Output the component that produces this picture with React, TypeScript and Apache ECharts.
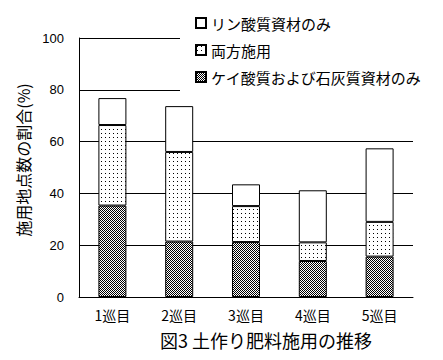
import React, { useEffect, useRef } from "react";
import * as echarts from "echarts";

const categories = ["1巡目", "2巡目", "3巡目", "4巡目", "5巡目"];
const silicaLime = [35.3, 21.4, 21.2, 13.9, 15.6];
const both = [31.1, 34.6, 13.9, 7.2, 13.4];
const phosphate = [10.4, 17.7, 8.4, 20.1, 28.4];
const seriesNames = ["リン酸質資材のみ", "両方施用", "ケイ酸質および石灰質資材のみ"];
const titleText = "図3 土作り肥料施用の推移";
const yAxisName = "施用地点数の割合(%)";

function makeDots(): HTMLCanvasElement {
  const c = document.createElement("canvas");
  c.width = 4;
  c.height = 4;
  const ctx = c.getContext("2d")!;
  ctx.fillStyle = "#fff";
  ctx.fillRect(0, 0, 4, 4);
  ctx.fillStyle = "#000";
  ctx.fillRect(1, 1, 1, 1);
  return c;
}

function makeChecker(): HTMLCanvasElement {
  const c = document.createElement("canvas");
  c.width = 2;
  c.height = 2;
  const ctx = c.getContext("2d")!;
  ctx.fillStyle = "#fff";
  ctx.fillRect(0, 0, 2, 2);
  ctx.fillStyle = "#000";
  ctx.fillRect(0, 0, 1, 1);
  ctx.fillRect(1, 1, 1, 1);
  return c;
}

export default function App() {
  const ref = useRef<HTMLDivElement>(null);
  useEffect(() => {
    if (!ref.current) return;
    const chart = echarts.init(ref.current, undefined, { renderer: "svg" });
    const font = "'Noto Sans CJK JP', 'Noto Sans', sans-serif";
    const dots = { image: makeDots(), repeat: "repeat" };
    const checker = { image: makeChecker(), repeat: "repeat" };
    const border = { borderColor: "#000", borderWidth: 1 };
    chart.setOption({
      animation: false,
      backgroundColor: "#fff",
      textStyle: { fontFamily: font, color: "#000" },
      title: {
        text: titleText,
        left: 160,
        top: 331,
        padding: 0,
        textStyle: { fontSize: 18, fontWeight: "normal", color: "#000", fontFamily: font },
      },
      legend: {
        orient: "vertical",
        left: 180,
        top: 0,
        padding: [15, 30, 8, 15],
        backgroundColor: "#fff",
        itemWidth: 10,
        itemHeight: 10,
        itemGap: 11,
        icon: "rect",
        data: seriesNames,
        textStyle: { fontSize: 15, lineHeight: 16, color: "#000", fontFamily: font },
      },
      graphic: [
        {
          type: "text",
          x: 23,
          y: 160,
          rotation: Math.PI / 2,
          style: {
            text: yAxisName,
            fontSize: 16,
            fontFamily: font,
            fill: "#000",
            align: "center",
            verticalAlign: "middle",
          },
        },
      ],
      grid: { left: 79, right: 30, top: 38, bottom: 63 },
      xAxis: {
        type: "category",
        data: categories,
        axisLine: { lineStyle: { color: "#000", width: 1 } },
        axisTick: { show: false },
        axisLabel: { fontSize: 14, margin: 11, color: "#000", fontFamily: font },
      },
      yAxis: {
        type: "value",
        min: 0,
        max: 100,
        interval: 20,
        axisLine: { show: true, lineStyle: { color: "#000", width: 1 } },
        axisTick: { show: false },
        splitLine: { lineStyle: { color: "#000", width: 1 } },
        axisLabel: { fontSize: 13, margin: 15, color: "#000", fontFamily: "'Liberation Sans', sans-serif" },
      },
      series: [
        {
          name: seriesNames[2],
          type: "bar",
          stack: "t",
          barWidth: 28,
          data: silicaLime,
          itemStyle: { color: checker, ...border },
        },
        {
          name: seriesNames[1],
          type: "bar",
          stack: "t",
          barWidth: 28,
          data: both,
          itemStyle: { color: dots, ...border },
        },
        {
          name: seriesNames[0],
          type: "bar",
          stack: "t",
          barWidth: 28,
          data: phosphate,
          itemStyle: { color: "#fff", ...border },
        },
      ],
    });
    return () => chart.dispose();
  }, []);
  return (
    <div
      ref={ref}
      style={{ position: "absolute", left: 0, top: 0, width: 443, height: 360 }}
    />
  );
}
